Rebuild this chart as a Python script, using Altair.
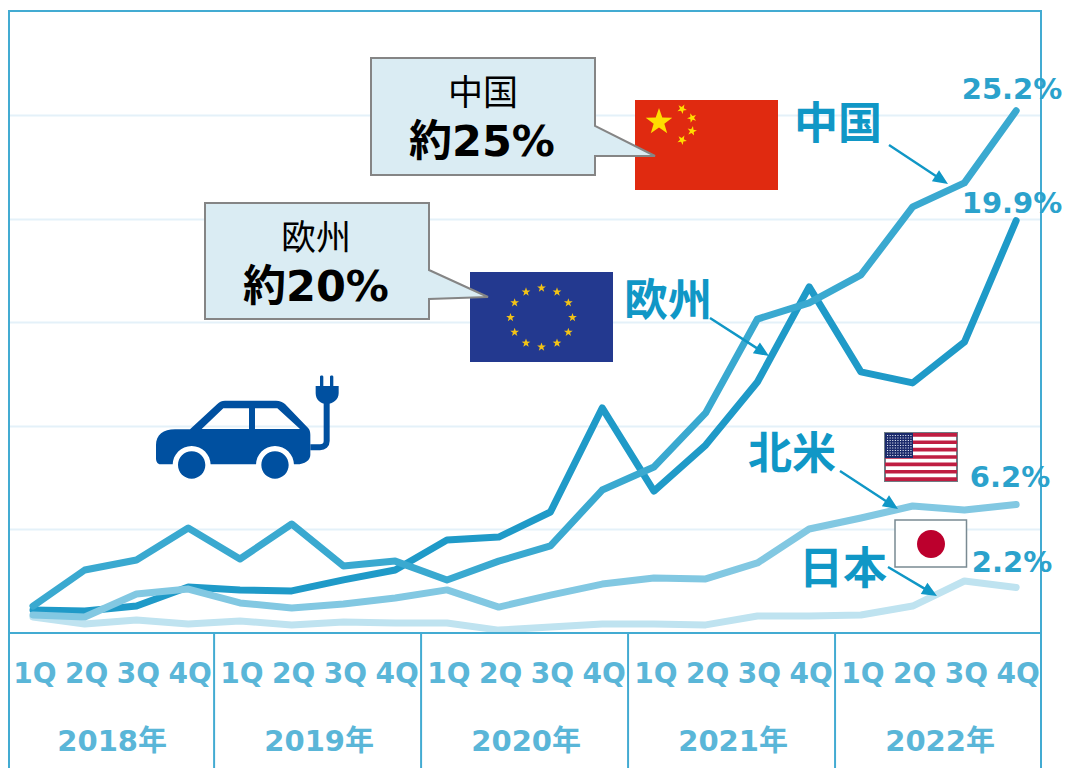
import math
import re
import altair as alt
import pandas as pd

# ---------- data ----------
YEARS = ["2018年", "2019年", "2020年", "2021年", "2022年"]
QUARTERS = ["1Q", "2Q", "3Q", "4Q"]
JAPAN = [0.77, 0.43, 0.63, 0.43, 0.58, 0.39, 0.53, 0.48, 0.48, 0.14, 0.29, 0.43, 0.43, 0.39, 0.82, 0.82, 0.87, 1.30, 2.51, 2.2]
EUROPE = [1.11, 1.06, 1.30, 2.22, 2.08, 2.03, 2.56, 3.04, 4.49, 4.63, 5.84, 10.86, 6.85, 9.07, 12.11, 16.70, 12.60, 12.07, 14.04, 19.9]
CHINA = [1.30, 3.04, 3.52, 5.07, 3.57, 5.26, 3.23, 3.47, 2.56, 3.47, 4.20, 6.90, 8.01, 10.62, 15.15, 15.93, 17.28, 20.56, 21.72, 25.2]
NORTH_AMERICA = [0.87, 0.77, 1.88, 2.12, 1.45, 1.21, 1.40, 1.69, 2.08, 1.25, 1.83, 2.36, 2.65, 2.61, 3.38, 5.02, 5.55, 6.13, 5.94, 6.2]
SERIES = {"日本": JAPAN, "欧州": EUROPE, "中国": CHINA, "北米": NORTH_AMERICA}
COLORS = ["#bfe3f0", "#1f9ac8", "#3aa9d0", "#82c8e2"]

rows = [{"idx": i, "series": name, "share": v} for name, vals in SERIES.items() for i, v in enumerate(vals)]
df = pd.DataFrame(rows)
year_df = pd.DataFrame({"year": YEARS, "idx": [1.53 + 4 * k for k in range(5)]})
sep_df = pd.DataFrame({"idx": [3.5, 7.5, 11.5, 15.5]})
one = pd.DataFrame({"a": [0]})

# ---------- scales ----------
PLOT_W, PLOT_H = 1033, 625
x_scale = alt.Scale(domain=[-0.483, 19.48], nice=False, zero=False)
y_scale = alt.Scale(domain=[0, 30.16], nice=False, zero=False)
FRAME = "#43abd2"
LABEL = "#5ab6d8"
ACCENT = "#1097c6"
JP_FONT = "Noto Sans CJK JP"
NUM_FONT = "DejaVu Sans, Noto Sans CJK JP"

x_axis = alt.Axis(
    values=list(range(20)), domain=False, ticks=False, grid=False,
    labelExpr=f"{QUARTERS}[datum.value % 4]",
    labelFont="DejaVu Sans", labelFontSize=28, labelFontWeight="bold", labelColor=LABEL,
    labelPadding=27, labelOffset=1.5, labelOverlap=False, labelFlush=False, labelAngle=0,
)
X = alt.X("idx:Q", scale=x_scale, title=None, axis=x_axis)


# ---------- decoration helpers (paths in picture pixels) ----------
def shape(path, fill=None, stroke=None, sw=1):
    kw = dict(shape=path, size=4, opacity=1)
    if fill:
        kw.update(filled=True, fill=fill)
    else:
        kw.update(filled=False)
    if stroke:
        kw.update(stroke=stroke, strokeWidth=sw)
    else:
        kw.update(strokeWidth=0)
    return alt.Chart(one).mark_point(**kw).encode(x=alt.value(-8), y=alt.value(-8))


def txt(s, x, y, size, color="#000000", bold=False, font=JP_FONT):
    return alt.Chart(one).mark_text(
        text=s, fontSize=size, color=color, font=font,
        fontWeight="bold" if bold else "normal", align="center", baseline="middle",
    ).encode(x=alt.value(x - 8), y=alt.value(y - 8))


def rect(x0, y0, x1, y1):
    return f"M{x0},{y0}L{x1},{y0}L{x1},{y1}L{x0},{y1}Z"


def circle(cx, cy, r):
    k = 0.5523 * r
    return (f"M{cx - r},{cy}C{cx - r},{cy - k} {cx - k},{cy - r} {cx},{cy - r}"
            f"C{cx + k},{cy - r} {cx + r},{cy - k} {cx + r},{cy}"
            f"C{cx + r},{cy + k} {cx + k},{cy + r} {cx},{cy + r}"
            f"C{cx - k},{cy + r} {cx - r},{cy + k} {cx - r},{cy}Z")


def star(cx, cy, r, rot=0.0):
    pts = []
    for i in range(10):
        rad = r if i % 2 == 0 else r * 0.4
        a = -math.pi / 2 + rot + i * math.pi / 5
        pts.append(f"{cx + rad * math.cos(a):.2f},{cy + rad * math.sin(a):.2f}")
    return "M" + "L".join(pts) + "Z"


def arrow(x0, y0, x1, y1, length=15, width=13, sw=2.4):
    d = math.hypot(x1 - x0, y1 - y0)
    ux, uy = (x1 - x0) / d, (y1 - y0) / d
    nx, ny = -uy, ux
    bx, by = x1 - ux * length, y1 - uy * length
    p = [
        (x0 + nx * sw / 2, y0 + ny * sw / 2), (bx + nx * sw / 2, by + ny * sw / 2),
        (bx + nx * width / 2, by + ny * width / 2), (x1, y1),
        (bx - nx * width / 2, by - ny * width / 2), (bx - nx * sw / 2, by - ny * sw / 2),
        (x0 - nx * sw / 2, y0 - ny * sw / 2),
    ]
    return "M" + "L".join(f"{a:.2f},{b:.2f}" for a, b in p) + "Z"


def car(s):
    """Convert car outline written on a 3x grid with origin (140, 360)."""
    return re.sub(r"(-?[\d.]+),(-?[\d.]+)",
                  lambda m: f"{140 + float(m[1]) / 3:.2f},{360 + float(m[2]) / 3:.2f}", s)


def car_circle(cx, cy, r):
    return circle(140 + cx / 3, 360 + cy / 3, r / 3)


# ---------- data layers ----------
lines = alt.Chart(df).mark_line(strokeWidth=7, strokeCap="round", strokeJoin="round").encode(
    x=X,
    y=alt.Y("share:Q", scale=y_scale, title=None, axis=alt.Axis(
        values=[5, 10, 15, 20, 25], labels=False, ticks=False, domain=False,
        grid=True, gridColor="#e4f1f9", gridWidth=2,
    )),
    color=alt.Color("series:N", sort=list(SERIES), legend=None,
                    scale=alt.Scale(domain=list(SERIES), range=COLORS)),
    detail="series:N",
)

year_text = alt.Chart(year_df).mark_text(
    fontSize=29, font=NUM_FONT, fontWeight="bold", color=LABEL, baseline="middle",
).encode(x=X, y=alt.value(742 - 8), text="year:N")

separators = alt.Chart(sep_df).mark_rule(color=FRAME, strokeWidth=2).encode(
    x=X, y=alt.value(PLOT_H), y2=alt.value(760))

# ---------- frame ----------
frame = shape(f"M9,770L9,11L1041,11L1041,770M9,633L1041,633", stroke=FRAME, sw=2)

# ---------- callouts ----------
call_cn = shape("M371,58L595,58L595,126L655,156L595,156L595,175L371,175Z", fill="#daecf3", stroke="#858585", sw=2)
call_eu = shape("M205,203L429,203L429,270L488,297L429,299L429,319L205,319Z", fill="#daecf3", stroke="#858585", sw=2)

# ---------- flags ----------
flag_cn = shape(rect(635, 100, 778, 190), fill="#e02a10")
stars_cn = shape(
    star(659, 122, 14) + star(682, 109, 5, 0.5) + star(692, 118, 5, 0.9)
    + star(692, 131, 5, 0.2) + star(682, 140, 5, 0.5), fill="#ffdd00")
flag_eu = shape(rect(470, 272, 613, 362), fill="#23398f")
eu_stars = "".join(
    star(541.5 + 31 * math.sin(i * math.pi / 6), 317.5 - 29.5 * math.cos(i * math.pi / 6), 4.6)
    for i in range(12))
stars_eu = shape(eu_stars, fill="#f3c316")
flag_us = shape(rect(885, 433, 957, 481), fill="#ffffff", stroke="#6f7c84", sw=2)
us_red = "".join(rect(885, 433 + i * 48 / 13, 957, 433 + (i + 1) * 48 / 13) for i in range(0, 13, 2))
flag_us_red = shape(us_red, fill="#bf1e42")
flag_us_blue = shape(rect(885, 433, 913, 458), fill="#1b2a6b")
us_dots = "".join(
    rect(887 + c * 2.6, 435 + r * 2.5, 888.1 + c * 2.6, 436.1 + r * 2.5)
    for r in range(9) for c in range(10))
flag_us_dots = shape(us_dots, fill="#e8ecf5")
flag_jp = shape(rect(895, 520, 966.5, 567), fill="#ffffff", stroke="#7a8a92", sw=1.5)
flag_jp_sun = shape(circle(931, 544, 14), fill="#bc002d")

# ---------- car ----------
CAR = "#0050a0"
car_body = shape(car(
    "M48,255 C48,225 70,208 105,208 L150,208 L232,132 C240,124 245,122 255,122 L408,122 "
    "C420,122 428,126 435,132 L505,205 C509,210 511,216 511,225 L511,285 C511,300 495,313 470,313 "
    "L62,313 C52,313 48,305 48,295 Z "
    "M185,207 L327,207 L327,145 L250,145 Z M345,207 L480,207 L412,145 L345,145 Z"), fill=CAR)
car_wells = shape(car_circle(155, 315, 57) + car_circle(405, 315, 57), fill="#ffffff")
car_wheels = shape(car_circle(155, 315, 41) + car_circle(405, 315, 41), fill=CAR)
car_cable = shape(car("M511,262 L540,262 C552,262 560,255 560,243 L560,125"), stroke=CAR, sw=6)
car_plug = shape(car(
    "M527,78 L540,78 L540,50 C540,45 550,45 550,50 L550,78 L570,78 L570,50 C570,45 580,45 580,50 L580,78 "
    "L596,78 L596,100 C596,120 578,132 560,132 C542,132 527,120 527,100 Z"), fill=CAR)

# ---------- arrows ----------
arrows = shape(
    arrow(889, 145, 948, 184) + arrow(710, 318, 769, 356)
    + arrow(840, 471, 898, 509) + arrow(888, 567, 937, 596), fill=ACCENT)

# ---------- texts ----------
texts = [
    txt("中国", 483, 94, 35),
    txt("約25%", 482, 143, 43, bold=True, font=NUM_FONT),
    txt("欧州", 316, 239, 35),
    txt("約20%", 316, 288, 43, bold=True, font=NUM_FONT),
    txt("中国", 838, 126, 44, ACCENT, True),
    txt("欧州", 668, 303, 44, ACCENT, True),
    txt("北米", 792, 456, 44, ACCENT, True),
    txt("日本", 843, 571, 44, ACCENT, True),
    txt("25.2%", 1012, 90, 29, "#2ba2cc", True, "DejaVu Sans"),
    txt("19.9%", 1012, 204, 29, "#2ba2cc", True, "DejaVu Sans"),
    txt("6.2%", 1010, 478, 29, "#2ba2cc", True, "DejaVu Sans"),
    txt("2.2%", 1012, 563, 29, "#2ba2cc", True, "DejaVu Sans"),
]

chart = alt.layer(
    lines, frame, separators, year_text,
    flag_cn, stars_cn, flag_eu, stars_eu, call_cn, call_eu,
    flag_us, flag_us_red, flag_us_blue, flag_us_dots, flag_jp, flag_jp_sun,
    car_cable, car_body, car_wells, car_wheels, car_plug, arrows, *texts,
).properties(
    width=PLOT_W, height=PLOT_H,
    padding={"left": 0, "top": 0, "right": 21, "bottom": 135},
    autosize=alt.AutoSizeParams(type="none"),
    background="#ffffff",
).configure_view(stroke=None)

chart.save("out.html", embed_options={"renderer": "svg", "actions": False})
